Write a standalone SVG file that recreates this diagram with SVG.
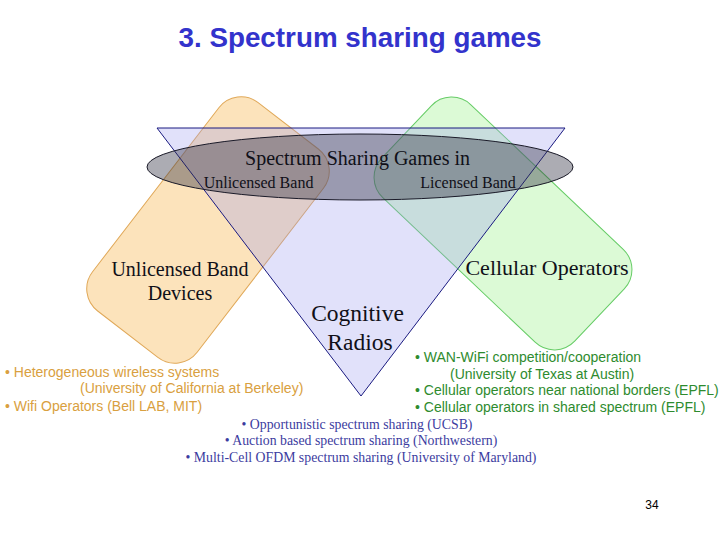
<svg xmlns="http://www.w3.org/2000/svg" width="720" height="540" viewBox="0 0 720 540">
<style>
.serif{font-family:"Liberation Serif","Times New Roman",serif;}
.sans{font-family:"Liberation Sans",Arial,sans-serif;}
.org{fill:#d9a040;font-size:14px;}
.grn{fill:#2e8b2e;font-size:14px;}
.blu{fill:#3c3ca0;font-size:13.8px;}
</style>
<rect width="720" height="540" fill="#ffffff"/>
<text class="sans" x="360" y="47" text-anchor="middle" font-size="27.8" font-weight="bold" fill="#3333cc">3. Spectrum sharing games</text>
<g id="unlicensed-devices">
<rect x="-66" y="-131.5" width="132" height="263" rx="28" transform="translate(208,230) rotate(37.6)" fill="#fce3bb" stroke="#e0a858" stroke-width="1"/>
</g>
<g id="cellular-operators">
<rect x="-133" y="-64" width="266" height="128" rx="28" transform="translate(503,223.5) rotate(43.5)" fill="#dcfad6" stroke="#66cc66" stroke-width="1"/>
</g>
<g id="cognitive-radios">
<polygon points="157,128 565,128 361,396" fill="#9a9aee" fill-opacity="0.3" stroke="#1a1a80" stroke-width="1"/>
</g>
<g id="games-ellipse">
<ellipse cx="360" cy="167" rx="213" ry="33" fill="#303040" fill-opacity="0.4" stroke="#1a1a28" stroke-width="1"/>
</g>
<g id="labels" class="serif" fill="#101018">
<text x="357.5" y="165" text-anchor="middle" font-size="20">Spectrum Sharing Games in</text>
<text x="258.5" y="188" text-anchor="middle" font-size="16">Unlicensed Band</text>
<text x="468" y="188" text-anchor="middle" font-size="16">Licensed Band</text>
<text x="180" y="276" text-anchor="middle" font-size="20">Unlicensed Band</text>
<text x="180" y="300" text-anchor="middle" font-size="20">Devices</text>
<text x="547" y="275" text-anchor="middle" font-size="22">Cellular Operators</text>
<text x="357.5" y="321" text-anchor="middle" font-size="23.5">Cognitive</text>
<text x="360" y="350" text-anchor="middle" font-size="23.5">Radios</text>
</g>
<g id="orange-list" class="sans">
<text class="org" x="5" y="377">• Heterogeneous wireless systems</text>
<text class="org" x="80" y="393">(University of California at Berkeley)</text>
<text class="org" x="5" y="411">• Wifi Operators (Bell LAB, MIT)</text>
</g>
<g id="green-list" class="sans">
<text class="grn" x="415" y="362">• WAN-WiFi competition/cooperation</text>
<text class="grn" x="450" y="379">(University of Texas at Austin)</text>
<text class="grn" x="415" y="395">• Cellular operators near national borders (EPFL)</text>
<text class="grn" x="415" y="412">• Cellular operators in shared spectrum (EPFL)</text>
</g>
<g id="blue-list" class="serif" text-anchor="middle">
<text class="blu" x="357" y="429">• Opportunistic spectrum sharing (UCSB)</text>
<text class="blu" x="361" y="445">• Auction based spectrum sharing (Northwestern)</text>
<text class="blu" x="361" y="462">• Multi-Cell OFDM spectrum sharing (University of Maryland)</text>
</g>
<text class="sans" x="652" y="509" text-anchor="middle" font-size="12" fill="#000000">34</text>
</svg>
